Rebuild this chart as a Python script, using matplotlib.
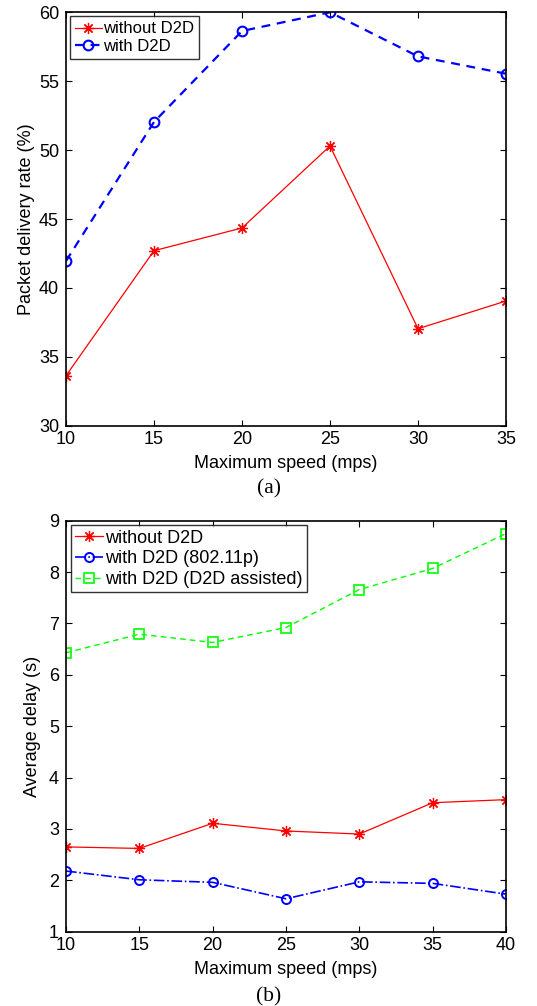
import matplotlib
matplotlib.use("Agg")
import matplotlib.pyplot as plt

plt.rcParams['font.family'] = ['Liberation Sans', 'DejaVu Sans']

# Data (a)
speed_a = [10, 15, 20, 25, 30, 35]
pdr_without = [33.63, 42.7, 44.35, 50.3, 37.04, 39.05]
pdr_with = [41.95, 52.04, 58.64, 60.0, 56.8, 55.54]

# Data (b)
speed_b = [10, 15, 20, 25, 30, 35, 40]
delay_without = [2.65, 2.62, 3.11, 2.96, 2.90, 3.51, 3.57]
delay_80211p = [2.18, 2.01, 1.96, 1.64, 1.97, 1.94, 1.73]
delay_assisted = [6.43, 6.79, 6.63, 6.92, 7.66, 8.07, 8.75]

fig = plt.figure(figsize=(5.37, 10.06), dpi=100)
ax1 = fig.add_axes([0.1229, 0.5768, 0.8194, 0.411])
ax2 = fig.add_axes([0.1229, 0.0739, 0.8194, 0.4085])

fs = 13
star = (8, 2, 0)

ax1.plot(speed_a, pdr_without, color='red', linestyle='-', linewidth=0.9,
         marker=star, markersize=8, markeredgewidth=0.9, label='without D2D')
ax1.plot(speed_a, pdr_with, color='blue', linestyle='--', linewidth=1.6, dashes=(4, 3),
         marker='o', markersize=7, markerfacecolor='none', markeredgewidth=1.5,
         label='with D2D')
ax1.set_xlim(10, 35)
ax1.set_ylim(30, 60)
ax1.set_xticks([10, 15, 20, 25, 30, 35])
ax1.set_yticks([30, 35, 40, 45, 50, 55, 60])
ax1.set_xlabel('Maximum speed (mps)', fontsize=fs, labelpad=5)
ax1.set_ylabel('Packet delivery rate (%)', fontsize=fs, labelpad=3)
leg1 = ax1.legend(loc='upper left', fontsize=12, frameon=True, fancybox=False,
                  edgecolor='black', borderpad=0.3, labelspacing=0.15,
                  handlelength=1.6, handletextpad=0.1, borderaxespad=0.25)
leg1.get_frame().set_linewidth(1.0)
fig.text(0.5, 0.5145, '(a)', ha='center', va='center', fontsize=15.5,
         family=['Liberation Serif', 'DejaVu Serif'])

ax2.plot(speed_b, delay_without, color='red', linestyle='-', linewidth=0.9,
         marker=star, markersize=8, markeredgewidth=0.9, label='without D2D')
ax2.plot(speed_b, delay_80211p, color='blue', linestyle='-.', linewidth=1.2,
         marker='o', markersize=6.5, markerfacecolor='none', markeredgewidth=1.4,
         label='with D2D (802.11p)')
ax2.plot(speed_b, delay_assisted, color='#00ff00', linestyle='--', linewidth=1.0,
         dashes=(4, 3), marker='s', markersize=6.5, markerfacecolor='none',
         markeredgewidth=1.2, label='with D2D (D2D assisted)')
ax2.set_xlim(10, 40)
ax2.set_ylim(1, 9)
ax2.set_xticks([10, 15, 20, 25, 30, 35, 40])
ax2.set_yticks([1, 2, 3, 4, 5, 6, 7, 8, 9])
ax2.set_xlabel('Maximum speed (mps)', fontsize=fs, labelpad=5)
ax2.set_ylabel('Average delay (s)', fontsize=fs, labelpad=6)
leg2 = ax2.legend(loc='upper left', fontsize=fs, frameon=True, fancybox=False,
                  edgecolor='black', borderpad=0.25, labelspacing=0.2,
                  handlelength=1.55, handletextpad=0.1, borderaxespad=0.25)
leg2.get_frame().set_linewidth(1.0)
fig.text(0.5, 0.0095, '(b)', ha='center', va='center', fontsize=15.5,
         family=['Liberation Serif', 'DejaVu Serif'])

for ax in (ax1, ax2):
    ax.tick_params(direction='in', top=True, right=True, labelsize=fs,
                   length=4, width=0.8)
    ax.tick_params(axis='x', pad=4)
    ax.tick_params(axis='y', pad=5)
    for s in ax.spines.values():
        s.set_linewidth(1.2)

fig.savefig('out.png', dpi=100)
